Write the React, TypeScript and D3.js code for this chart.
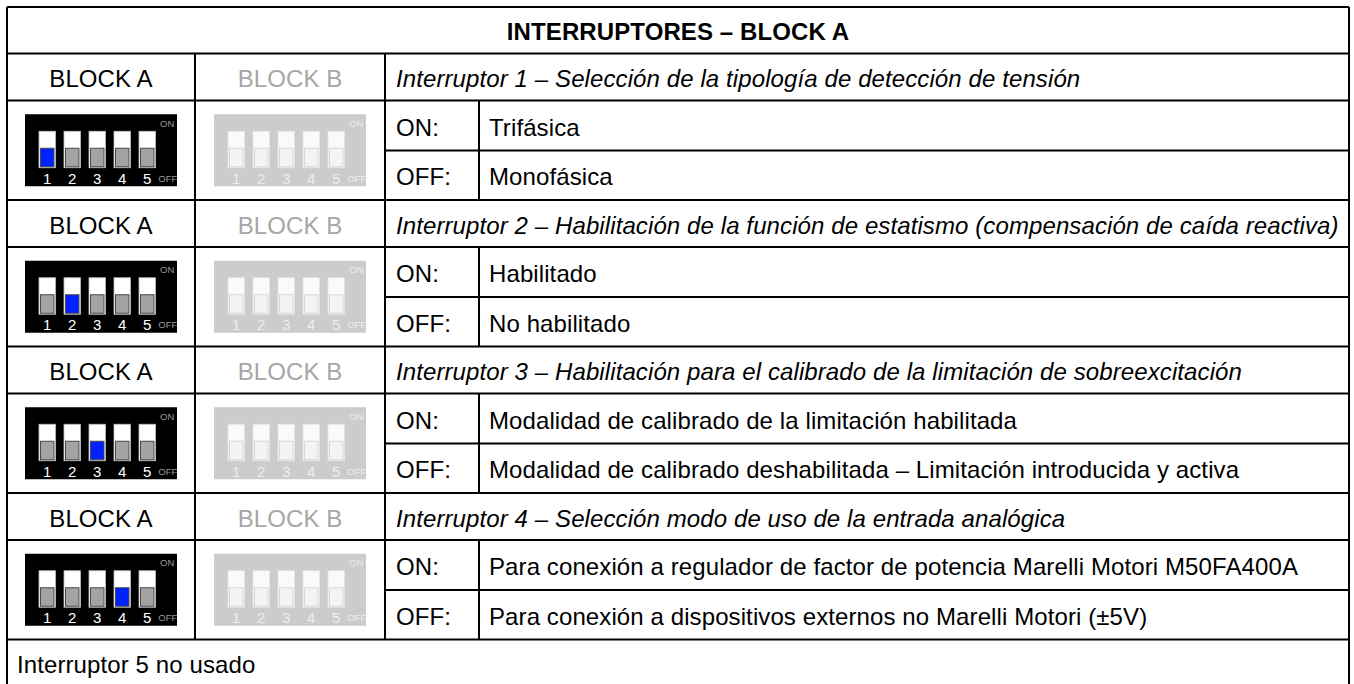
import React from "react";
import * as d3 from "d3";

// table content
const title = "INTERRUPTORES – BLOCK A";
const blockLabels = ["BLOCK A", "BLOCK B"];
const switchTitles = [
  "Interruptor 1 – Selección de la tipología de detección de tensión",
  "Interruptor 2 – Habilitación de la función de estatismo (compensación de caída reactiva)",
  "Interruptor 3 – Habilitación para el calibrado de la limitación de sobreexcitación",
  "Interruptor 4 – Selección modo de uso de la entrada analógica",
];
const onTexts = [
  "Trifásica",
  "Habilitado",
  "Modalidad de calibrado de la limitación habilitada",
  "Para conexión a regulador de factor de potencia Marelli Motori M50FA400A",
];
const offTexts = [
  "Monofásica",
  "No habilitado",
  "Modalidad de calibrado deshabilitada – Limitación introducida y activa",
  "Para conexión a dispositivos externos no Marelli Motori (±5V)",
];
const activeSwitch = [1, 2, 3, 4];
const switchNumbers = [1, 2, 3, 4, 5];
const footer = "Interruptor 5 no usado";

const W = 1354;
const H = 684;
const FONT = "'Liberation Sans', Arial, Helvetica, sans-serif";
const FS = 24;
const LS = 0.1;

// layout
const colEdges = [7, 195, 385, 479, 1349];
const top = 7;
const headerH = 46.5;
const groupRowH = [47, 50, 49.5];
const footerH = 47;

const groupH = d3.sum(groupRowH);
const groupY = d3.scaleLinear().domain([0, 1]).range([top + headerH, top + headerH + groupH]);
const footerY = groupY(switchTitles.length);

const IMG_W = 152;
const IMG_H = 72;
const toggleX = d3.scaleBand<number>().domain(switchNumbers).range([14, 130.5]).paddingInner(0.34).paddingOuter(0);

const baseline = (y0: number, h: number) => y0 + h / 2 + 10;

const DipSwitch = ({ x, y, active, grey }: { x: number; y: number; active: number; grey: boolean }) => {
  const bg = grey ? "#cccccc" : "#000000";
  const frame = grey ? "#fafafa" : "#ffffff";
  const knobFill = (n: number) => (grey ? "#f4f4f4" : n === active ? "#0022ff" : "#a3a3a3");
  const knobStroke = grey ? "#d6d6d6" : "#4a4a4a";
  const numColor = grey ? "#eeeeee" : "#ffffff";
  const labelColor = grey ? "#eeeeee" : "#9a9a9a";
  const bw = toggleX.bandwidth();
  return (
    <g transform={`translate(${x},${y})`}>
      <rect width={IMG_W} height={IMG_H} fill={bg} />
      {switchNumbers.map((n) => {
        const tx = toggleX(n) as number;
        return (
          <g key={n}>
            <rect x={tx} y={17} width={bw} height={36.5} fill={frame} stroke={grey ? "#e4e4e4" : "#bdbdbd"} strokeWidth={0.8} />
            <rect x={tx + 1.5} y={34} width={bw - 3} height={18.5} fill={knobFill(n)} stroke={knobStroke} strokeWidth={1} />
            <text x={tx + bw / 2} y={69.5} textAnchor="middle" fontSize={15} fill={numColor} fontFamily={FONT}>
              {n}
            </text>
          </g>
        );
      })}
      <text x={149.5} y={12.5} textAnchor="end" fontSize={9.5} fill={labelColor} fontFamily={FONT}>
        ON
      </text>
      <text x={152.5} y={67.5} textAnchor="end" fontSize={9.5} fill={labelColor} fontFamily={FONT}>
        OFF
      </text>
    </g>
  );
};

export default function App() {
  const lines: { x1: number; y1: number; x2: number; y2: number }[] = [];
  const L = colEdges[0];
  const R = colEdges[colEdges.length - 1];
  const bottom = footerY + footerH;
  // outer border
  lines.push({ x1: L, y1: top, x2: R, y2: top });
  lines.push({ x1: L, y1: top, x2: L, y2: bottom });
  lines.push({ x1: R, y1: top, x2: R, y2: bottom });
  lines.push({ x1: L, y1: bottom, x2: R, y2: bottom });
  // header bottom
  lines.push({ x1: L, y1: top + headerH, x2: R, y2: top + headerH });
  // column lines across groups
  lines.push({ x1: colEdges[1], y1: groupY(0), x2: colEdges[1], y2: footerY });
  lines.push({ x1: colEdges[2], y1: groupY(0), x2: colEdges[2], y2: footerY });

  switchTitles.forEach((_, g) => {
    const y0 = groupY(g);
    const yOn = y0 + groupRowH[0];
    const yOff = yOn + groupRowH[1];
    const yEnd = yOff + groupRowH[2];
    lines.push({ x1: L, y1: yOn, x2: R, y2: yOn });
    lines.push({ x1: colEdges[2], y1: yOff, x2: R, y2: yOff });
    lines.push({ x1: L, y1: yEnd, x2: R, y2: yEnd });
    lines.push({ x1: colEdges[3], y1: yOn, x2: colEdges[3], y2: yEnd });
  });

  return (
    <svg
      width={W}
      height={H}
      style={{ position: "fixed", left: 0, top: 0, background: "#ffffff" }}
      fontFamily={FONT}
      letterSpacing={LS}
    >
      <rect width={W} height={H} fill="#ffffff" />
      <text x={(L + R) / 2} y={baseline(top, headerH)} textAnchor="middle" fontSize={FS} fontWeight="bold" fill="#000">
        {title}
      </text>

      {switchTitles.map((t, g) => {
        const y0 = groupY(g);
        const yOn = y0 + groupRowH[0];
        const yOff = yOn + groupRowH[1];
        const cellMid = yOn + (groupRowH[1] + groupRowH[2]) / 2;
        return (
          <g key={g}>
            {blockLabels.map((b, i) => (
              <text
                key={b}
                x={(colEdges[i] + colEdges[i + 1]) / 2}
                y={baseline(y0, groupRowH[0])}
                textAnchor="middle"
                fontSize={FS}
                fill={i === 0 ? "#000" : "#a6a6a6"}
              >
                {b}
              </text>
            ))}
            <text x={colEdges[2] + 11} y={baseline(y0, groupRowH[0])} fontSize={FS} fontStyle="italic" fill="#000">
              {t}
            </text>
            <text x={colEdges[2] + 11} y={baseline(yOn, groupRowH[1])} fontSize={FS} fill="#000">
              ON:
            </text>
            <text x={colEdges[2] + 11} y={baseline(yOff, groupRowH[2])} fontSize={FS} fill="#000">
              OFF:
            </text>
            <text x={colEdges[3] + 10} y={baseline(yOn, groupRowH[1])} fontSize={FS} fill="#000">
              {onTexts[g]}
            </text>
            <text x={colEdges[3] + 10} y={baseline(yOff, groupRowH[2])} fontSize={FS} fill="#000">
              {offTexts[g]}
            </text>
            <DipSwitch
              x={(colEdges[0] + colEdges[1]) / 2 - IMG_W / 2}
              y={cellMid - IMG_H / 2}
              active={activeSwitch[g]}
              grey={false}
            />
            <DipSwitch
              x={(colEdges[1] + colEdges[2]) / 2 - IMG_W / 2}
              y={cellMid - IMG_H / 2}
              active={activeSwitch[g]}
              grey={true}
            />
          </g>
        );
      })}

      <text x={L + 10} y={baseline(footerY, footerH)} fontSize={FS} fill="#000">
        {footer}
      </text>

      {lines.map((l, i) => (
        <line key={i} {...l} stroke="#000" strokeWidth={2} />
      ))}
    </svg>
  );
}
